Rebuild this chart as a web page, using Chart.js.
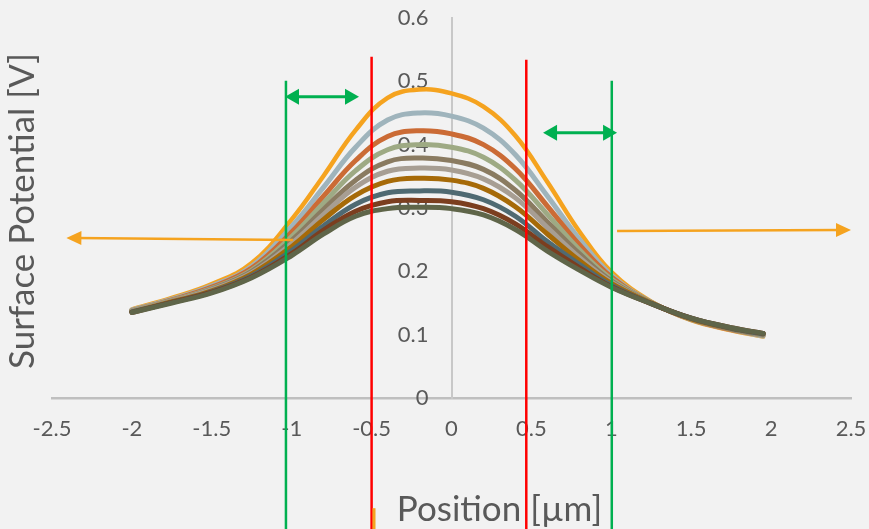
<!DOCTYPE html>
<html>
<head>
<meta charset="utf-8">
<title>Surface Potential vs Position</title>
<script src="https://cdn.jsdelivr.net/npm/chart.js@4/dist/chart.umd.min.js"></script>
<style>
  html, body { margin: 0; padding: 0; background: #F2F2F2; }
  #wrap { width: 869px; height: 529px; position: relative; }
</style>
</head>
<body>
<div id="wrap"><canvas id="chart" width="869" height="529"></canvas></div>
<script>
// Position along the scan line [µm]
const positions = [-2, -1.75, -1.5, -1.25, -1, -0.8, -0.6, -0.4, -0.2, 0, 0.2, 0.4, 0.6, 0.8, 1, 1.25, 1.5, 1.75, 1.95];

// Surface potential profiles [V], highest to lowest
const profileA = [0.140, 0.158, 0.180, 0.213, 0.282, 0.351, 0.423, 0.474, 0.487, 0.481, 0.460, 0.414, 0.341, 0.263, 0.199, 0.152, 0.123, 0.107, 0.097];
const profileB = [0.139, 0.156, 0.177, 0.208, 0.271, 0.333, 0.396, 0.439, 0.450, 0.445, 0.426, 0.384, 0.319, 0.251, 0.194, 0.151, 0.124, 0.108, 0.098];
const profileC = [0.138, 0.155, 0.175, 0.205, 0.262, 0.319, 0.375, 0.413, 0.422, 0.417, 0.400, 0.362, 0.303, 0.242, 0.191, 0.151, 0.124, 0.108, 0.099];
const profileD = [0.138, 0.154, 0.173, 0.202, 0.255, 0.308, 0.359, 0.392, 0.400, 0.396, 0.380, 0.344, 0.290, 0.234, 0.188, 0.151, 0.124, 0.109, 0.099];
const profileE = [0.137, 0.153, 0.172, 0.200, 0.249, 0.298, 0.344, 0.373, 0.379, 0.375, 0.361, 0.328, 0.278, 0.228, 0.185, 0.150, 0.125, 0.109, 0.100];
const profileF = [0.137, 0.153, 0.171, 0.198, 0.244, 0.290, 0.333, 0.358, 0.363, 0.360, 0.346, 0.316, 0.269, 0.222, 0.183, 0.150, 0.125, 0.110, 0.100];
const profileG = [0.136, 0.152, 0.169, 0.196, 0.239, 0.282, 0.320, 0.342, 0.347, 0.344, 0.331, 0.302, 0.259, 0.217, 0.181, 0.150, 0.125, 0.110, 0.101];
const profileH = [0.136, 0.151, 0.168, 0.193, 0.233, 0.272, 0.306, 0.324, 0.327, 0.325, 0.313, 0.287, 0.247, 0.211, 0.178, 0.149, 0.126, 0.110, 0.101];
const profileI = [0.135, 0.151, 0.167, 0.191, 0.228, 0.265, 0.295, 0.310, 0.312, 0.310, 0.299, 0.275, 0.239, 0.206, 0.176, 0.149, 0.126, 0.111, 0.102];
const profileJ = [0.135, 0.150, 0.166, 0.190, 0.225, 0.259, 0.287, 0.299, 0.301, 0.299, 0.289, 0.266, 0.232, 0.202, 0.175, 0.149, 0.126, 0.111, 0.102];

const profiles = [profileA, profileB, profileC, profileD, profileE, profileF, profileG, profileH, profileI, profileJ];
const profileColors = ['#F5A31F', '#9FB4BC', '#CB6B35', '#9EAA84', '#8A7B61', '#A79E93', '#A66A08', '#4F6A72', '#7B3E1F', '#5F6549'];

// Axis ticks
const xTickValues = [-2.5, -2, -1.5, -1, -0.5, 0, 0.5, 1, 1.5, 2, 2.5];
const xTickLabels = ['-2.5', '-2', '-1.5', '-1', '-0.5', '0', '0.5', '1', '1.5', '2', '2.5'];
const yTickValues = [0, 0.1, 0.2, 0.3, 0.4, 0.5, 0.6];
const yTickLabels = ['0', '0.1', '0.2', '0.3', '0.4', '0.5', '0.6'];

// Marker lines (data units): vertical guides, width arrows, spread arrows
const greenGuides = [{ x: -1.036, top: 0.501 }, { x: 1.003, top: 0.501 }];
const redGuides = [{ x: -0.5, top: 0.539 }, { x: 0.468, top: 0.534 }];
const greenArrows = [{ x1: -1.042, x2: -0.579, y: 0.4755 }, { x1: 0.573, x2: 1.036, y: 0.419 }];
const orangeArrows = [
  { x1: -0.992, y1: 0.2496, x2: -2.41, y2: 0.2528 },
  { x1: 1.036, y1: 0.2638, x2: 2.5, y2: 0.2654 }
];
const orangeTick = { x: -0.485, top: -0.174 };

const TEXT = '#595959';
const FONT = 'Lato, "Open Sans", sans-serif';

function arrowHead(ctx, tipX, tipY, fromX, fromY, len, half, color) {
  const a = Math.atan2(tipY - fromY, tipX - fromX);
  ctx.save();
  ctx.translate(tipX, tipY);
  ctx.rotate(a);
  ctx.fillStyle = color;
  ctx.beginPath();
  ctx.moveTo(0, 0);
  ctx.lineTo(-len, -half);
  ctx.lineTo(-len, half);
  ctx.closePath();
  ctx.fill();
  ctx.restore();
}

const overlay = {
  id: 'overlay',
  beforeDraw(chart) {
    const ctx = chart.ctx;
    ctx.save();
    ctx.fillStyle = '#F2F2F2';
    ctx.fillRect(0, 0, chart.width, chart.height);
    ctx.restore();
  },
  afterDraw(chart) {
    const ctx = chart.ctx;
    const xs = chart.scales.x, ys = chart.scales.y;
    const H = chart.height;
    ctx.save();

    // axis titles
    ctx.fillStyle = TEXT;
    ctx.font = '35px ' + FONT;
    ctx.textAlign = 'center';
    ctx.textBaseline = 'alphabetic';
    ctx.fillText('Position [\u00B5m]', xs.getPixelForValue(0.3), 521);

    ctx.save();
    ctx.translate(34, (ys.top + ys.bottom) / 2 + 3);
    ctx.rotate(-Math.PI / 2);
    ctx.font = '35px ' + FONT;
    ctx.fillText('Surface Potential [V]', 0, 0);
    ctx.restore();

    // vertical guides
    ctx.lineWidth = 2.5;
    ctx.strokeStyle = '#00B050';
    greenGuides.forEach(g => {
      const px = xs.getPixelForValue(g.x);
      ctx.beginPath();
      ctx.moveTo(px, ys.getPixelForValue(g.top));
      ctx.lineTo(px, H);
      ctx.stroke();
    });
    ctx.strokeStyle = '#FF0000';
    redGuides.forEach(g => {
      const px = xs.getPixelForValue(g.x);
      ctx.beginPath();
      ctx.moveTo(px, ys.getPixelForValue(g.top));
      ctx.lineTo(px, H);
      ctx.stroke();
    });

    // green double arrows
    greenArrows.forEach(a => {
      const p1 = xs.getPixelForValue(a.x1), p2 = xs.getPixelForValue(a.x2), py = ys.getPixelForValue(a.y);
      ctx.strokeStyle = '#00B050';
      ctx.lineWidth = 3;
      ctx.beginPath();
      ctx.moveTo(p1 + 8, py);
      ctx.lineTo(p2 - 8, py);
      ctx.stroke();
      arrowHead(ctx, p1, py, p2, py, 14, 8, '#00B050');
      arrowHead(ctx, p2, py, p1, py, 14, 8, '#00B050');
    });

    // orange arrows
    orangeArrows.forEach(a => {
      const x1 = xs.getPixelForValue(a.x1), y1 = ys.getPixelForValue(a.y1);
      const x2 = xs.getPixelForValue(a.x2), y2 = ys.getPixelForValue(a.y2);
      ctx.strokeStyle = '#F5A31F';
      ctx.lineWidth = 2.5;
      ctx.beginPath();
      ctx.moveTo(x1, y1);
      ctx.lineTo(x2 + (x1 < x2 ? -10 : 10), y2);
      ctx.stroke();
      arrowHead(ctx, x2, y2, x1, y1, 15, 7, '#F5A31F');
    });

    // small orange mark
    ctx.fillStyle = '#F5A31F';
    const ox = xs.getPixelForValue(orangeTick.x);
    const oy = ys.getPixelForValue(orangeTick.top);
    ctx.fillRect(ox - 1.5, oy, 3, H - oy);

    ctx.restore();
  }
};

const datasets = profiles.map((vals, i) => ({
  label: 'Profile ' + (i + 1),
  data: positions.map((x, k) => ({ x: x, y: vals[k] })),
  borderColor: profileColors[i],
  backgroundColor: profileColors[i],
  borderWidth: i === 0 ? 4.5 : 5,
  borderCapStyle: 'round',
  pointRadius: 0,
  tension: 0.4,
  fill: false,
  order: profiles.length - i
}));

new Chart(document.getElementById('chart'), {
  type: 'line',
  data: { datasets: datasets },
  options: {
    responsive: false,
    devicePixelRatio: 1,
    animation: false,
    layout: { padding: { left: 52, right: 18, top: 18, bottom: 131 } },
    plugins: { legend: { display: false }, tooltip: { enabled: false } },
    scales: {
      x: {
        type: 'linear',
        position: { y: 0 },
        min: -2.5,
        max: 2.5,
        afterBuildTicks: s => { s.ticks = xTickValues.map(v => ({ value: v })); },
        ticks: {
          callback: (v) => xTickLabels[xTickValues.indexOf(v)],
          color: TEXT,
          font: { family: FONT, size: 22 },
          padding: 0,
          maxRotation: 0,
          autoSkip: false
        },
        grid: { display: false, drawTicks: true, tickLength: 18 },
        border: { display: true, color: '#BFBFBF', width: 2.5 }
      },
      y: {
        type: 'linear',
        position: 'center',
        min: 0,
        max: 0.6,
        afterBuildTicks: s => { s.ticks = yTickValues.map(v => ({ value: v })); },
        ticks: {
          callback: (v) => yTickLabels[yTickValues.indexOf(v)],
          color: TEXT,
          font: { family: FONT, size: 22 },
          padding: 0,
          autoSkip: false
        },
        grid: { display: false, drawTicks: true, tickLength: 23 },
        border: { display: true, color: '#C8C8C8', width: 2 }
      }
    }
  },
  plugins: [overlay]
});
</script>
</body>
</html>
